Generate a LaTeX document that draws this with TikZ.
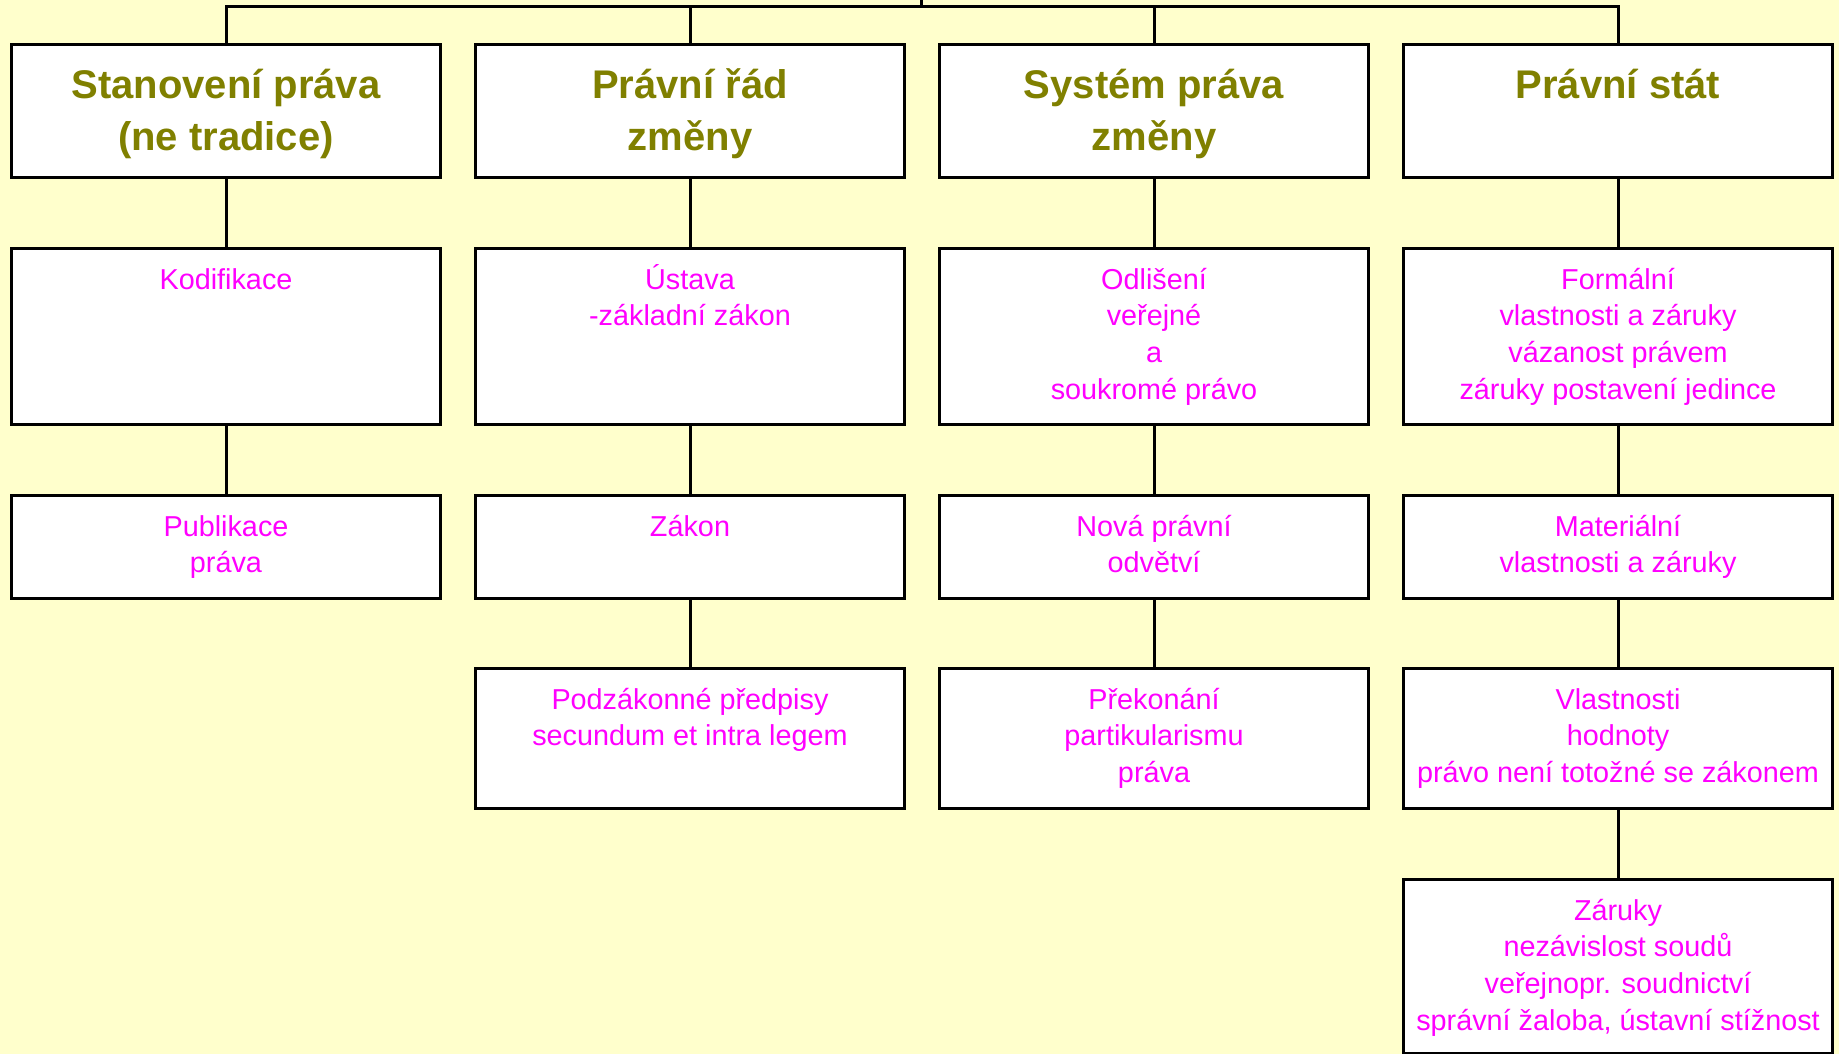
\documentclass[tikz,border=0pt]{standalone}
\usepackage{fontspec}
\setmainfont{Liberation Sans}
\definecolor{bgc}{HTML}{FFFFCC}
\definecolor{olivec}{HTML}{808000}
\definecolor{magc}{HTML}{FF00FF}
\newcommand\hstrutx{\rule{0pt}{40pt}}
\newcommand\bstrutx{\rule{0pt}{30pt}}
\begin{document}
\begin{tikzpicture}[x=1pt,y=-1pt,
  box/.style={draw=black,fill=white,line width=3pt,rectangle,inner sep=0pt,minimum width=429pt,anchor=north west},
  conn/.style={draw=black,line width=3pt},
  htext/.style={text=olivec,font=\bfseries\fontsize{40}{52}\selectfont,align=center,anchor=north,inner sep=0pt},
  btext/.style={text=magc,font=\fontsize{28.8}{36.7}\selectfont,align=center,anchor=north,inner sep=0pt}]
\fill[bgc] (0,0) rectangle (1839,1054);
\useasboundingbox (0,0) rectangle (1839,1054);
% row 1
\node[box,minimum height=133pt] (h1) at (10,43) {};
\node[box,minimum height=133pt] (h2) at (474,43) {};
\node[box,minimum height=133pt] (h3) at (938,43) {};
\node[box,minimum height=133pt] (h4) at (1402,43) {};
% row 2
\node[box,minimum height=176pt] (b1) at (10,247) {};
\node[box,minimum height=176pt] (b2) at (474,247) {};
\node[box,minimum height=176pt] (b3) at (938,247) {};
\node[box,minimum height=176pt] (b4) at (1402,247) {};
% row 3
\node[box,minimum height=103pt] (c1) at (10,494) {};
\node[box,minimum height=103pt] (c2) at (474,494) {};
\node[box,minimum height=103pt] (c3) at (938,494) {};
\node[box,minimum height=103pt] (c4) at (1402,494) {};
% row 4
\node[box,minimum height=140pt] (d2) at (474,667) {};
\node[box,minimum height=140pt] (d3) at (938,667) {};
\node[box,minimum height=140pt] (d4) at (1402,667) {};
% row 5
\node[box,minimum height=174pt] (e4) at (1402,878) {};
% texts (first baseline = y + strut height)
\node[htext] (th1) at (h1.north |- 0,58) {\hstrutx Stanovení práva\\(ne tradice)};
\node[htext] (th2) at (h2.north |- 0,58) {\hstrutx Právní řád\\změny};
\node[htext] (th3) at (h3.north |- 0,58) {\hstrutx Systém práva\\změny};
\node[htext] (th4) at (h4.north |- 0,58) {\hstrutx Právní stát};
\node[btext] (tb1) at (b1.north |- 0,259) {\bstrutx Kodifikace};
\node[btext] (tb2) at (b2.north |- 0,259) {\bstrutx Ústava\\-základní zákon};
\node[btext] (tb3) at (b3.north |- 0,259) {\bstrutx Odlišení\\veřejné\\a\\soukromé právo};
\node[btext] (tb4) at (b4.north |- 0,259) {\bstrutx Formální\\vlastnosti a záruky\\vázanost právem\\záruky postavení jedince};
\node[btext] (tc1) at (c1.north |- 0,506) {\bstrutx Publikace\\práva};
\node[btext] (tc2) at (c2.north |- 0,506) {\bstrutx Zákon};
\node[btext] (tc3) at (c3.north |- 0,506) {\bstrutx Nová právní\\odvětví};
\node[btext] (tc4) at (c4.north |- 0,506) {\bstrutx Materiální\\vlastnosti a záruky};
\node[btext] (td2) at (d2.north |- 0,679) {\bstrutx Podzákonné předpisy\\secundum et intra legem};
\node[btext] (td3) at (d3.north |- 0,679) {\bstrutx Překonání\\partikularismu\\práva};
\node[btext] (td4) at (d4.north |- 0,679) {\bstrutx Vlastnosti\\hodnoty\\právo není totožné se zákonem};
\node[btext] (te4) at (e4.north |- 0,890) {\bstrutx Záruky\\nezávislost soudů\\veřejnopr. soudnictví\\správní žaloba, ústavní stížnost};
% connectors
\draw[conn] (h1.south) -- (b1.north);
\draw[conn] (b1.south) -- (c1.north);
\draw[conn] (h2.south) -- (b2.north);
\draw[conn] (b2.south) -- (c2.north);
\draw[conn] (c2.south) -- (d2.north);
\draw[conn] (h3.south) -- (b3.north);
\draw[conn] (b3.south) -- (c3.north);
\draw[conn] (c3.south) -- (d3.north);
\draw[conn] (h4.south) -- (b4.north);
\draw[conn] (b4.south) -- (c4.north);
\draw[conn] (c4.south) -- (d4.north);
\draw[conn] (d4.south) -- (e4.north);
% bus
\coordinate (busy) at (0,7);
\coordinate (stub) at (921,0);
\draw[conn] (h1.north) -- (h1.north |- busy) -- (h4.north |- busy) -- (h4.north);
\draw[conn] (h2.north) -- (h2.north |- busy);
\draw[conn] (h3.north) -- (h3.north |- busy);
\draw[conn] (stub) -- (stub |- busy);
\end{tikzpicture}
\end{document}
